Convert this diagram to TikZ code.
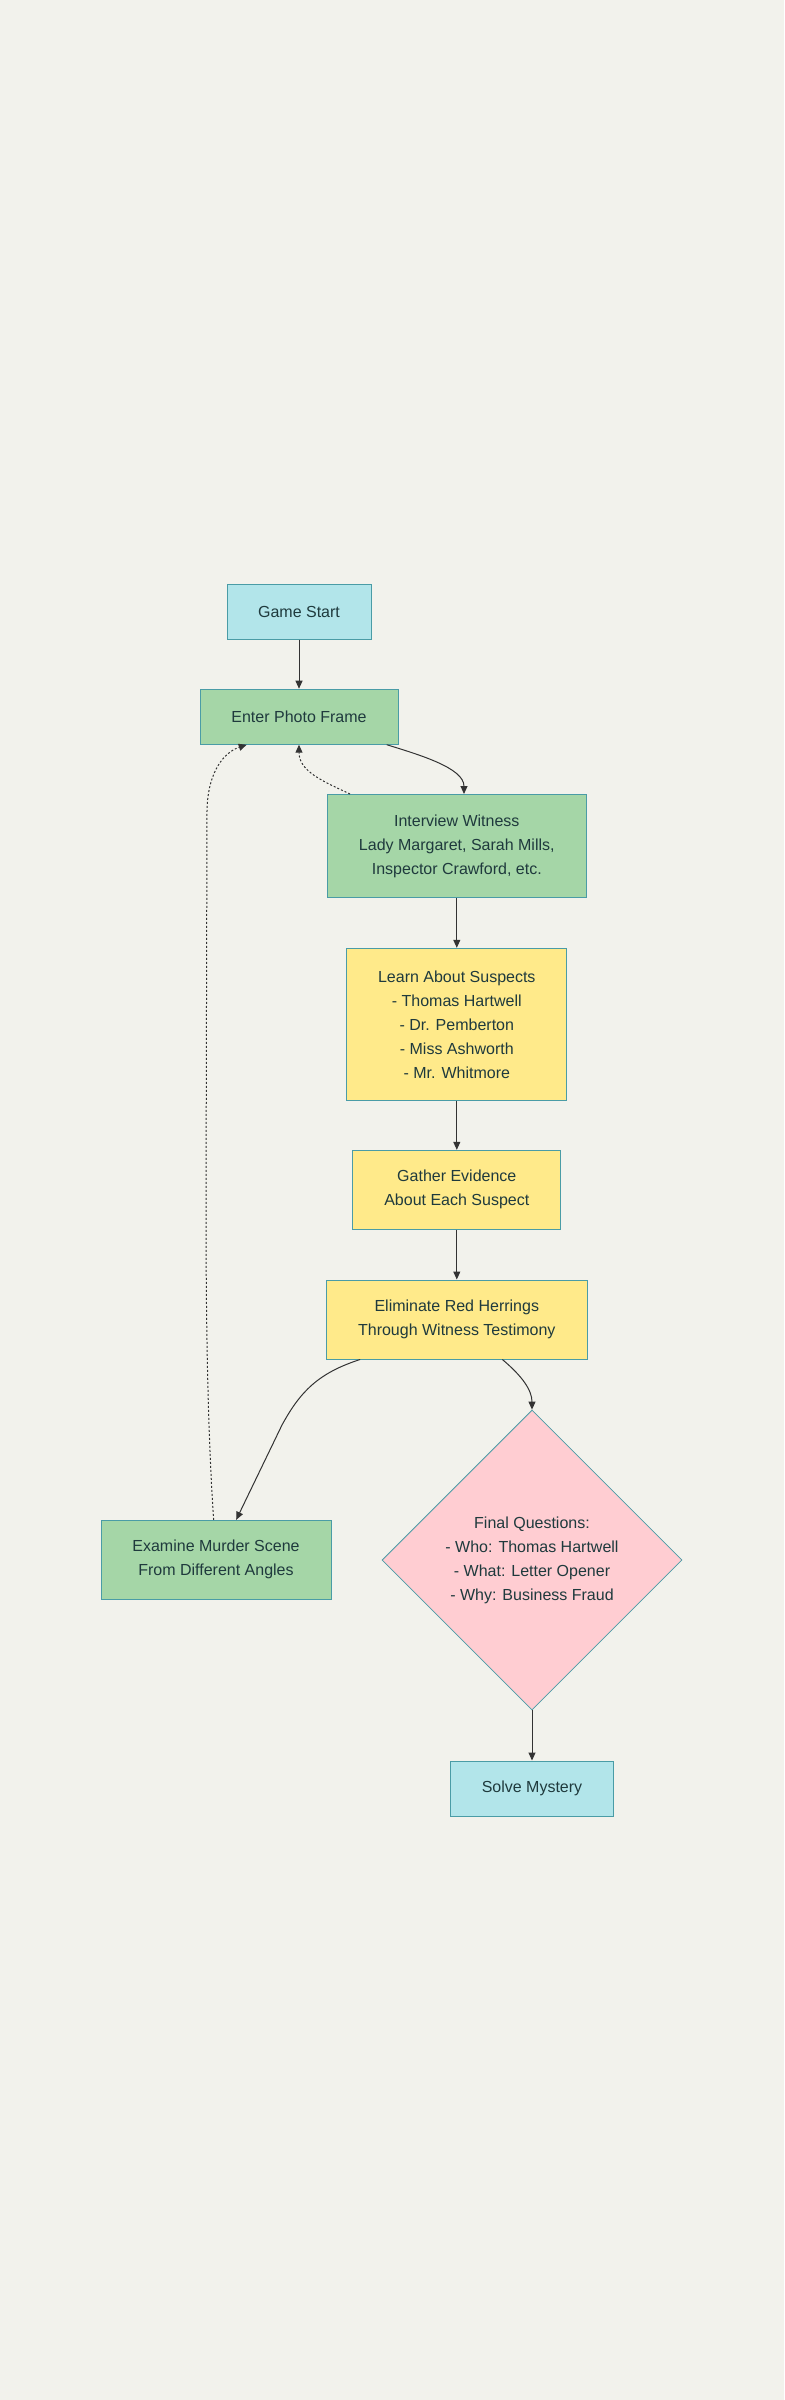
\documentclass[tikz,border=0pt]{standalone}
\usepackage{fontspec}
\setmainfont{Liberation Sans}
\usetikzlibrary{shapes.geometric,arrows.meta,calc}
\definecolor{bgc}{HTML}{F2F2EC}
\definecolor{cyanfill}{HTML}{B2E5EA}
\definecolor{greenfill}{HTML}{A5D6A7}
\definecolor{yellowfill}{HTML}{FFEA8A}
\definecolor{pinkfill}{HTML}{FFCDD2}
\definecolor{boxline}{HTML}{4A9CA6}
\definecolor{txt}{HTML}{1F3A3D}
\definecolor{edgec}{HTML}{333333}
\begin{document}
\begin{tikzpicture}[x=1pt,y=-1pt,
  box/.style={draw=boxline, line width=1pt, inner sep=0pt, align=center,
    text=txt, font=\fontsize{16}{24}\selectfont},
  cyanbox/.style={box, fill=cyanfill},
  greenbox/.style={box, fill=greenfill},
  yellowbox/.style={box, fill=yellowfill},
  decision/.style={box, fill=pinkfill, shape=diamond, shape aspect=1,
    minimum width=300pt, minimum height=300pt, line width=0.8pt},
  flow/.style={draw=edgec, line width=1pt, -{Triangle[length=8pt,width=7pt]}},
  dottedflow/.style={flow, dash pattern=on 2pt off 2pt}
]
\fill[bgc] (0,0) rectangle (784,2400);
\useasboundingbox (0,0) rectangle (784,2400);

\node[cyanbox, minimum width=144pt, minimum height=55pt] (gs) at (299,611.5) {Game Start};
\node[greenbox, minimum width=198pt, minimum height=55pt] (epf) at (299,716.7) {Enter Photo Frame};
\node[greenbox, minimum width=259pt, minimum height=103pt] (iw) at (456.8,846) {Interview Witness\\Lady Margaret, Sarah Mills,\\Inspector Crawford, etc.};
\node[yellowbox, minimum width=220pt, minimum height=152pt] (learn) at (456.8,1024.3) {Learn About Suspects\\- Thomas Hartwell\\- Dr. Pemberton\\- Miss Ashworth\\- Mr. Whitmore};
\node[yellowbox, minimum width=208pt, minimum height=79pt] (gather) at (456.8,1189.8) {Gather Evidence\\About Each Suspect};
\node[yellowbox, minimum width=261pt, minimum height=79pt] (elim) at (456.8,1319.5) {Eliminate Red Herrings\\Through Witness Testimony};
\node[greenbox, minimum width=230pt, minimum height=79pt] (exam) at (216,1559.8) {Examine Murder Scene\\From Different Angles};
\node[decision] (final) at (532,1560) {Final Questions:\\- Who: Thomas Hartwell\\- What: Letter Opener\\- Why: Business Fraud};
\node[cyanbox, minimum width=163pt, minimum height=55pt] (solve) at (532,1788.5) {Solve Mystery};

\draw[flow] (gs.south) -- (epf.north);
\draw[flow] ([xshift=87.7pt]epf.south) .. controls (420,755) and (464,768) .. ([xshift=7.2pt]iw.north);
\draw[dottedflow] ([xshift=-106.8pt]iw.north) .. controls (325,782) and (299,772) .. (epf.south);
\draw[flow] (iw.south) -- (learn.north);
\draw[flow] (learn.south) -- (gather.north);
\draw[flow] (gather.south) -- (elim.north);
\draw[flow] ([xshift=-96.7pt]elim.south) .. controls (318,1373) and (300,1392) .. (282,1425) -- ([xshift=20.2pt]exam.north);
\draw[flow] ([xshift=45.6pt]elim.south) .. controls (522,1376) and (532,1390) .. (final.north);
\draw[flow] (final.south) -- (solve.north);
\draw[dottedflow] ([xshift=-2.4pt]exam.north) .. controls (207,1420) and (206,1300) .. (206,1200) -- (207,810) .. controls (208,770) and (225,752) .. ([xshift=-52.3pt]epf.south);
\end{tikzpicture}
\end{document}
